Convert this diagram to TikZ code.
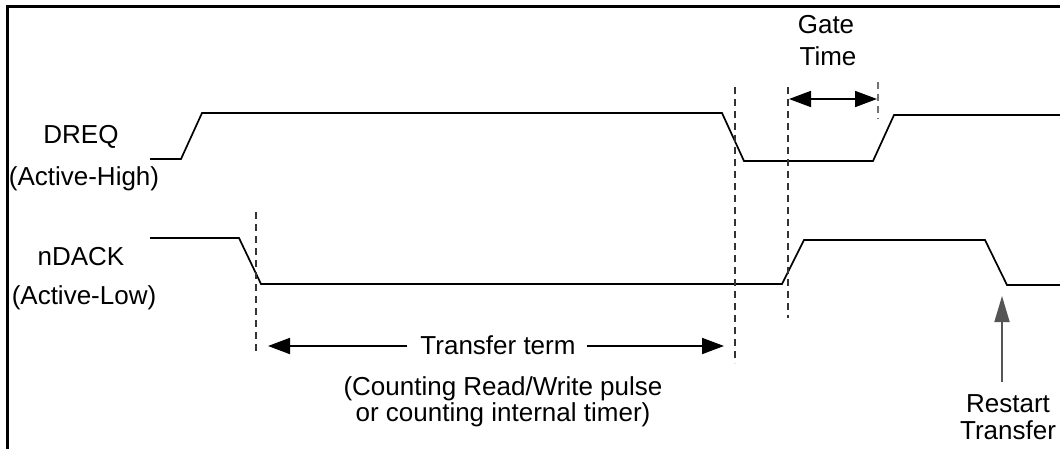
\documentclass[tikz,border=0pt]{standalone}
\usepackage{fontspec}
\setmainfont{Liberation Sans}
\usetikzlibrary{arrows.meta}
\definecolor{arrgray}{RGB}{85,85,85}
\begin{document}
\begin{tikzpicture}[x=1pt,y=-1pt,
  signal/.style={line width=1.7pt,line join=miter},
  guide/.style={line width=1.1pt,dash pattern=on 7pt off 5pt,color=black!80},
  guidegray/.style={guide,color=black!55},
  dimarrow/.style={line width=1.8pt,{Triangle[length=22pt,width=16pt]}-{Triangle[length=22pt,width=16pt]}},
  onearrow/.style={line width=1.8pt,-{Triangle[length=22pt,width=16pt]}},
  lbl/.style={font=\fontsize{26}{30}\selectfont,inner sep=0pt,anchor=base}]
\useasboundingbox (0,0) rectangle (1060,448);
\begin{scope}
\clip (0,0) rectangle (1060,448);
\draw[line width=3pt] (7,6) rectangle (1080,470);
\end{scope}
% labels
\node[lbl] (dreq) at (81,143) {DREQ};
\node[lbl] (dreqa) at (84,185) {(Active-High)};
\node[lbl] (ndack) at (81,265) {nDACK};
\node[lbl] (ndacka) at (84,304) {(Active-Low)};
% signals
\draw[signal] (150,159) -- (181,159) -- (202,113) -- (722,113) -- (744,161) -- (873,161) -- (894,115) -- (1062,115);
\draw[signal] (150,238) -- (239,238) -- (261,284) -- (782,284) -- (804,240) -- (985,240) -- (1007,285) -- (1062,285);
% guides
\coordinate (g1t) at (256,212); \coordinate (g1b) at (256,354);
\coordinate (g2t) at (735,87);  \coordinate (g2b) at (735,363);
\coordinate (g3t) at (788,87);  \coordinate (g3b) at (788,318);
\coordinate (g4t) at (878,82);  \coordinate (g4b) at (878,119);
\draw[guide] (g1t) -- (g1b);
\draw[guide] (g2t) -- (g2b);
\draw[guide] (g3t) -- (g3b);
\draw[guidegray] (g4t) -- (g4b);
% gate time
\node[lbl] (gate) at (826,33) {Gate};
\node[lbl] (time) at (828,65) {Time};
\coordinate (ga) at (789,99); \coordinate (gb) at (877,99);
\draw[dimarrow] (ga) -- (gb);
% transfer term
\node[lbl] (tt) at (498,354) {Transfer term};
\coordinate (tl) at (268,346); \coordinate (tr) at (724,346);
\draw[onearrow] (tt.west |- tl) ++(-13,0) coordinate (tlin) -- (tl);
\draw[onearrow] (tt.east |- tr) ++(11,0) coordinate (trin) -- (tr);
\node[lbl] (cnt1) at (503,395) {(Counting Read/Write pulse};
\node[lbl] (cnt2) at (503,421) {or counting internal timer)};
% restart
\node[lbl] (rs1) at (1008,412) {Restart};
\node[lbl] (rs2) at (1008,439) {Transfer};
\coordinate (rb) at (1002,382); \coordinate (rt) at (1002,296);
\draw[line width=1.8pt,color=arrgray,-{Triangle[length=26pt,width=15pt]}] (rb) -- (rt);
\end{tikzpicture}
\end{document}
